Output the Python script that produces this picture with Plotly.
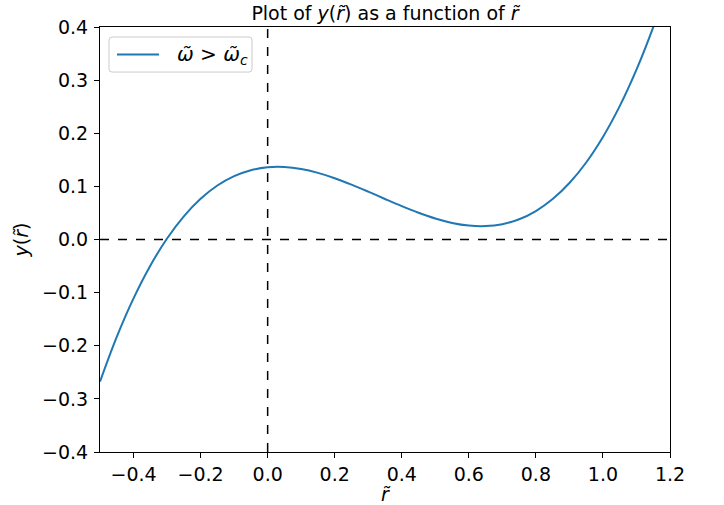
import plotly.graph_objects as go

# Sampled curve y(r~) over the plotted range
r_vals = [-0.50, -0.45, -0.40, -0.35, -0.30, -0.25, -0.20, -0.15, -0.10, -0.05,
          0.00, 0.05, 0.10, 0.15, 0.20, 0.25, 0.30, 0.35, 0.40, 0.45,
          0.50, 0.55, 0.60, 0.65, 0.70, 0.75, 0.80, 0.85, 0.90, 0.95,
          1.00, 1.05, 1.10, 1.15, 1.20]
y_vals = [-0.2675, -0.1833, -0.1108, -0.0493, 0.0019, 0.0436, 0.0766, 0.1016, 0.1193, 0.1305,
          0.1360, 0.1365, 0.1327, 0.1254, 0.1154, 0.1034, 0.0901, 0.0763, 0.0628, 0.0503,
          0.0395, 0.0312, 0.0262, 0.0252, 0.0289, 0.0381, 0.0536, 0.0761, 0.1063, 0.1450,
          0.1930, 0.2510, 0.3197, 0.3999, 0.4924]

x_ticks = [-0.4, -0.2, 0.0, 0.2, 0.4, 0.6, 0.8, 1.0, 1.2]
y_ticks = [-0.4, -0.3, -0.2, -0.1, 0.0, 0.1, 0.2, 0.3, 0.4]

series_label = "<i>ω̃</i> > <i>ω̃</i><sub><i>c</i></sub>"

FONT = "DejaVu Sans"
MINUS = "\u2212"
LINE_COLOR = "#1f77b4"


def fmt(v):
    s = f"{v:.1f}"
    return s.replace("-", MINUS)


fig = go.Figure()
fig.add_trace(go.Scatter(
    x=r_vals, y=y_vals, mode="lines", line_shape="spline",
    line=dict(color=LINE_COLOR, width=2),
    name=series_label, showlegend=False,
))

# Reference lines through the origin
fig.add_shape(type="line", xref="x", yref="paper", x0=0, x1=0, y0=0, y1=1,
              line=dict(color="black", width=1.5, dash="dash"))
fig.add_shape(type="line", xref="paper", yref="y", x0=0, x1=1, y0=0, y1=0,
              line=dict(color="black", width=1.5, dash="dash"))

# Legend box (rounded frame, line sample, label) in plot-area fractions
lx0, lx1, ly0, ly1 = 0.0158, 0.2667, 0.894, 0.9765
rx, ry = 0.0053, 0.0071
legend_path = (
    f"M {lx0 + rx},{ly0} L {lx1 - rx},{ly0} Q {lx1},{ly0} {lx1},{ly0 + ry} "
    f"L {lx1},{ly1 - ry} Q {lx1},{ly1} {lx1 - rx},{ly1} "
    f"L {lx0 + rx},{ly1} Q {lx0},{ly1} {lx0},{ly1 - ry} "
    f"L {lx0},{ly0 + ry} Q {lx0},{ly0} {lx0 + rx},{ly0} Z"
)
fig.add_shape(type="path", xref="paper", yref="paper", path=legend_path,
              fillcolor="rgba(255,255,255,0.8)", line=dict(color="#cccccc", width=1))
ly_mid = (ly0 + ly1) / 2
fig.add_shape(type="line", xref="paper", yref="paper",
              x0=0.0298, x1=0.1035, y0=ly_mid, y1=ly_mid,
              line=dict(color=LINE_COLOR, width=2))
fig.add_annotation(xref="paper", yref="paper", x=0.1316, y=ly_mid,
                   xanchor="left", yanchor="middle", showarrow=False,
                   text=series_label,
                   font=dict(family=FONT, size=20, color="black"))

axis_common = dict(
    showline=True, linecolor="black", linewidth=1, mirror=True,
    ticks="outside", ticklen=5, tickwidth=1, tickcolor="black",
    showgrid=False, zeroline=False, automargin=False,
    tickfont=dict(family=FONT, size=19, color="black"),
)

fig.update_xaxes(
    range=[-0.5, 1.2], tickvals=x_ticks, ticktext=[fmt(v) for v in x_ticks],
    title=dict(text="<i>r̃</i>", font=dict(family=FONT, size=19, color="black"),
               standoff=2),
    **axis_common,
)
fig.update_yaxes(
    range=[-0.4, 0.4], tickvals=y_ticks, ticktext=[fmt(v) for v in y_ticks],
    ticklabelstandoff=2,
    title=dict(text="<i>y</i>(<i>r̃</i>)", font=dict(family=FONT, size=19, color="black"),
               standoff=8),
    **axis_common,
)

fig.update_layout(
    width=724, height=505,
    margin=dict(l=100, r=54, t=27, b=53, autoexpand=False),
    paper_bgcolor="white", plot_bgcolor="white",
    font=dict(family=FONT, color="black"),
    title=dict(text="Plot of <i>y</i>(<i>r̃</i>) as a function of <i>r̃</i>",
               x=0.5, xref="paper", xanchor="center",
               y=1 - 13 / 505, yref="container", yanchor="middle",
               font=dict(family=FONT, size=19, color="black")),
    showlegend=False,
)

fig.write_html("out.html")
